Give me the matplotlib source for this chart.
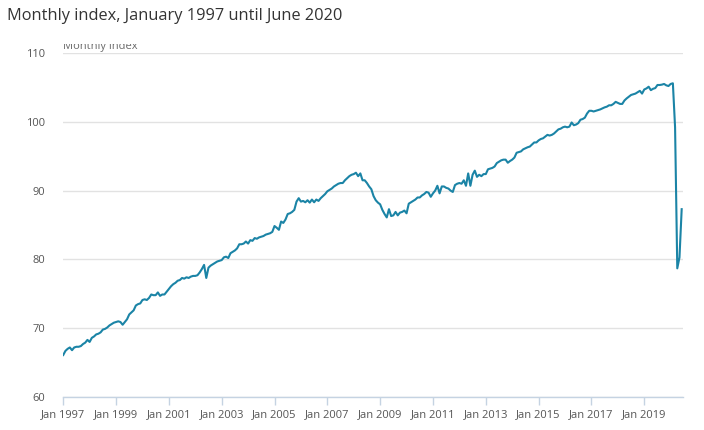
import matplotlib
matplotlib.use("Agg")
import matplotlib.pyplot as plt
from matplotlib.patches import Rectangle

plt.rcParams['font.family'] = ['Open Sans', 'DejaVu Sans']

title = "Monthly index, January 1997 until June 2020"
y_label = "Monthly index"

y1997 = [66.1, 66.7, 67.0, 67.2, 66.8, 67.2, 67.3, 67.3, 67.4, 67.7, 67.9, 68.3]
y1998 = [68.0, 68.6, 68.8, 69.1, 69.2, 69.4, 69.8, 69.9, 70.1, 70.4, 70.6, 70.8]
y1999 = [70.9, 71.0, 70.9, 70.5, 70.9, 71.3, 72.0, 72.3, 72.6, 73.3, 73.5, 73.6]
y2000 = [74.1, 74.2, 74.1, 74.4, 74.9, 74.8, 74.8, 75.2, 74.7, 74.9, 74.9, 75.3]
y2001 = [75.7, 76.1, 76.4, 76.6, 76.9, 77.0, 77.3, 77.2, 77.4, 77.3, 77.5, 77.6]
y2002 = [77.6, 77.7, 78.1, 78.6, 79.2, 77.3, 78.8, 79.1, 79.3, 79.5, 79.7, 79.8]
y2003 = [79.9, 80.3, 80.4, 80.2, 80.9, 81.1, 81.3, 81.6, 82.2, 82.2, 82.3, 82.6]
y2004 = [82.3, 82.8, 82.7, 83.1, 83.0, 83.2, 83.3, 83.4, 83.6, 83.7, 83.8, 84.0]
y2005 = [84.85, 84.6, 84.3, 85.5, 85.3, 85.8, 86.6, 86.7, 86.9, 87.2, 88.4, 88.9]
y2006 = [88.4, 88.5, 88.3, 88.6, 88.25, 88.7, 88.3, 88.7, 88.5, 88.9, 89.2, 89.5]
y2007 = [89.9, 90.1, 90.3, 90.6, 90.8, 91.0, 91.1, 91.1, 91.5, 91.8, 92.1, 92.3]
y2008 = [92.4, 92.6, 92.1, 92.5, 91.5, 91.5, 91.1, 90.6, 90.2, 89.2, 88.6, 88.25]
y2009 = [88.0, 87.2, 86.6, 86.1, 87.3, 86.3, 86.4, 86.9, 86.4, 86.8, 86.9, 87.1]
y2010 = [86.7, 88.1, 88.3, 88.5, 88.7, 89.0, 89.0, 89.3, 89.5, 89.8, 89.7, 89.1]
y2011 = [89.6, 90.0, 90.7, 89.6, 90.6, 90.6, 90.4, 90.3, 90.0, 89.8, 90.8, 91.0]
y2012 = [91.1, 91.0, 91.5, 90.7, 92.5, 90.7, 92.3, 92.9, 92.0, 92.3, 92.1, 92.4]
y2013 = [92.4, 93.1, 93.2, 93.3, 93.5, 94.0, 94.2, 94.4, 94.5, 94.5, 94.05, 94.3]
y2014 = [94.5, 94.8, 95.5, 95.6, 95.7, 96.0, 96.15, 96.3, 96.4, 96.7, 97.0, 97.0]
y2015 = [97.3, 97.5, 97.6, 97.85, 98.1, 98.0, 98.1, 98.3, 98.6, 98.9, 99.0, 99.2]
y2016 = [99.3, 99.2, 99.3, 99.9, 99.5, 99.6, 99.8, 100.3, 100.4, 100.6, 101.2, 101.6]
y2017 = [101.6, 101.5, 101.6, 101.7, 101.8, 101.95, 102.1, 102.2, 102.4, 102.4, 102.6, 102.9]
y2018 = [102.75, 102.6, 102.6, 103.1, 103.4, 103.65, 103.9, 104.0, 104.1, 104.3, 104.5, 104.1]
y2019 = [104.7, 104.85, 105.1, 104.6, 104.8, 104.9, 105.35, 105.35, 105.4, 105.5, 105.3, 105.2]
y2020 = [105.5, 105.6, 99.2, 78.7, 80.3, 87.3]

values = (y1997 + y1998 + y1999 + y2000 + y2001 + y2002 + y2003 + y2004 +
          y2005 + y2006 + y2007 + y2008 + y2009 + y2010 + y2011 + y2012 +
          y2013 + y2014 + y2015 + y2016 + y2017 + y2018 + y2019 + y2020)
months = list(range(len(values)))

tick_labels = ["Jan 1997", "Jan 1999", "Jan 2001", "Jan 2003", "Jan 2005", "Jan 2007",
               "Jan 2009", "Jan 2011", "Jan 2013", "Jan 2015", "Jan 2017", "Jan 2019"]
tick_pos = [24 * i for i in range(len(tick_labels))]
y_ticks = [60, 70, 80, 90, 100, 110]

fig = plt.figure(figsize=(7.04, 4.30), dpi=100)
ax = fig.add_axes([63 / 704, 33 / 430, 620 / 704, 344 / 430])

ax.plot(months, values, color="#1b84a6", lw=1.5, solid_joinstyle="round", zorder=3)

ax.set_xlim(-0.1, 281.6)
ax.set_ylim(60, 110)
ax.set_yticks(y_ticks)
ax.set_xticks(tick_pos)
ax.set_xticklabels(tick_labels)
ax.grid(axis="y", color="#e2e2e2", lw=1)
ax.set_axisbelow(True)
for s in ["top", "right", "left"]:
    ax.spines[s].set_visible(False)
ax.spines["bottom"].set_color("#c5d3e2")
ax.spines["bottom"].set_linewidth(1)
ax.tick_params(axis="x", colors="#c5d3e2", length=6, width=1, labelcolor="#555555",
               labelsize=8, pad=3)
ax.tick_params(axis="y", length=0, labelcolor="#555555", labelsize=8, pad=13)

fig.text(7 / 704, 1 - 16 / 430, title, fontsize=11.8, color="#333333", va="center", ha="left")
t = fig.text(63 / 704, 1 - 46.5 / 430, y_label, fontsize=8, color="#6a6a6a", va="center", ha="left")
t.set_clip_path(Rectangle((0, 0), 1, 1 - 43.5 / 430, transform=fig.transFigure))

fig.savefig("out.png", dpi=100)
